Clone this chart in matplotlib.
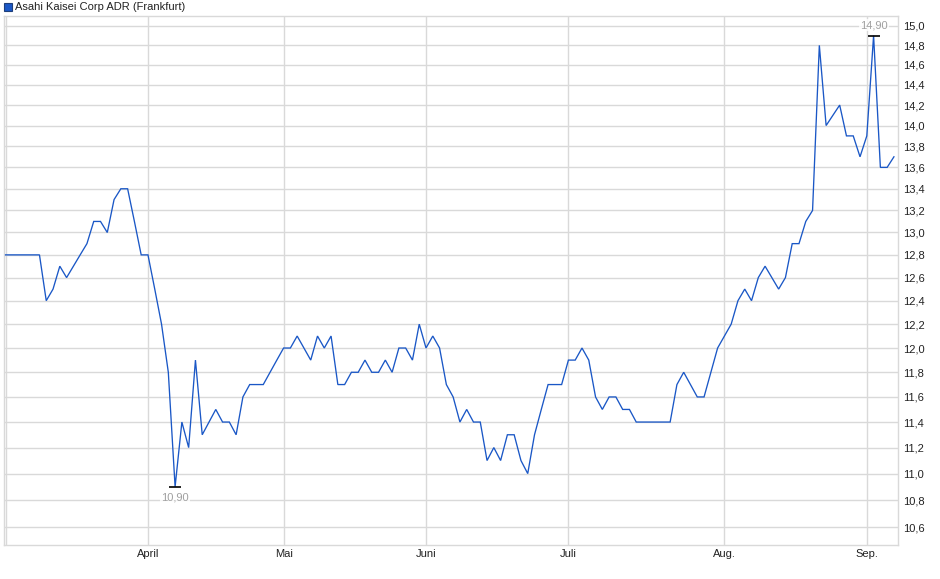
import numpy as np
import pandas as pd
import matplotlib
matplotlib.use("Agg")
import matplotlib.pyplot as plt
from matplotlib.ticker import FixedLocator, NullLocator, FuncFormatter

# ---- data ----
title = "Asahi Kaisei Corp ADR (Frankfurt)"
holidays = ["2025-04-18", "2025-04-21", "2025-05-01"]
dates = pd.bdate_range("2025-03-03", "2025-09-05")
dates = dates[~dates.isin(pd.to_datetime(holidays))]

prices = [
    12.8, 12.8, 12.8, 12.8, 12.8, 12.8, 12.4, 12.5, 12.7, 12.6,
    12.7, 12.8, 12.9, 13.1, 13.1, 13.0, 13.3, 13.4, 13.4, 13.1,
    12.8, 12.8, 12.5, 12.2, 11.8, 10.9, 11.4, 11.2, 11.9, 11.3,
    11.4, 11.5, 11.4, 11.4, 11.3, 11.6, 11.7, 11.7, 11.7, 11.8,
    11.9, 12.0, 12.0, 12.1, 12.0, 11.9, 12.1, 12.0, 12.1, 11.7,
    11.7, 11.8, 11.8, 11.9, 11.8, 11.8, 11.9, 11.8, 12.0, 12.0,
    11.9, 12.2, 12.0, 12.1, 12.0, 11.7, 11.6, 11.4, 11.5, 11.4,
    11.4, 11.1, 11.2, 11.1, 11.3, 11.3, 11.1, 11.0, 11.3, 11.5,
    11.7, 11.7, 11.7, 11.9, 11.9, 12.0, 11.9, 11.6, 11.5, 11.6,
    11.6, 11.5, 11.5, 11.4, 11.4, 11.4, 11.4, 11.4, 11.4, 11.7,
    11.8, 11.7, 11.6, 11.6, 11.8, 12.0, 12.1, 12.2, 12.4, 12.5,
    12.4, 12.6, 12.7, 12.6, 12.5, 12.6, 12.9, 12.9, 13.1, 13.2,
    14.8, 14.0, 14.1, 14.2, 13.9, 13.9, 13.7, 13.9, 14.9, 13.6,
    13.6, 13.7,
]
n = min(len(dates), len(prices))
dates = dates[:n]
prices = np.array(prices[:n])

month_names = ["April", "Mai", "Juni", "Juli", "Aug.", "Sep."]
month_nums = [4, 5, 6, 7, 8, 9]
y_ticks = [10.6, 10.8, 11.0, 11.2, 11.4, 11.6, 11.8, 12.0, 12.2, 12.4, 12.6,
           12.8, 13.0, 13.2, 13.4, 13.6, 13.8, 14.0, 14.2, 14.4, 14.6, 14.8, 15.0]

# ---- figure ----
plt.rcParams['font.family'] = ['Liberation Sans', 'DejaVu Sans']
W, H = 940, 579
fig = plt.figure(figsize=(W / 100, H / 100), dpi=100)
ax = fig.add_axes([4 / W, (H - 545) / H, (898 - 4) / W, (545 - 16) / H])

x = np.arange(n)
line_color = "#1a57c6"
grid_color = "#d9d9d9"
ax.plot(x, prices, color=line_color, lw=0.95, solid_joinstyle="miter", zorder=3)

ax.set_yscale("log")
ax.set_ylim(10.469, 15.104)
ax.set_xlim(-0.23, n - 1 + 0.6)

ax.yaxis.set_major_locator(FixedLocator(y_ticks))
ax.yaxis.set_minor_locator(NullLocator())
ax.yaxis.set_major_formatter(FuncFormatter(lambda v, p: f"{v:.1f}".replace(".", ",")))
ax.yaxis.tick_right()

month_pos = []
for m in month_nums:
    idx = np.where(dates.month == m)[0]
    month_pos.append(idx[0])
ax.xaxis.set_major_locator(FixedLocator(month_pos))
ax.xaxis.set_minor_locator(NullLocator())
ax.set_xticklabels(month_names)

ax.tick_params(axis="both", length=0, labelsize=8, colors="#222222")
ax.tick_params(axis="y", pad=4)
ax.tick_params(axis="x", pad=3)

ax.grid(True, which="major", color=grid_color, lw=1.0, zorder=0)
ax.axvline(0.06, color=grid_color, lw=1.0, zorder=0)
for s in ax.spines.values():
    s.set_color(grid_color)
    s.set_linewidth(1.0)

# min / max annotations
imax = int(np.argmax(prices))
imin = int(np.argmin(prices))
for i, off, va in [(imax, 7.5, "center"), (imin, -7.5, "center")]:
    ax.plot([i], [prices[i]], marker="_", markersize=9, markeredgewidth=1.2,
            color="black", zorder=4)
    ax.annotate(f"{prices[i]:.2f}".replace(".", ","), xy=(i, prices[i]),
                xytext=(0, off), textcoords="offset points", ha="center", va=va,
                fontsize=8, color="#a0a0a0", zorder=5,
                bbox=dict(boxstyle="square,pad=0.1", fc="white", ec="none", alpha=0.8))

# legend
fig.patches.append(plt.Rectangle((4 / W, (H - 11) / H), 8 / W, 8 / H,
                                 transform=fig.transFigure, facecolor=line_color,
                                 edgecolor="#1f3f7a", lw=0.8))
fig.text(15 / W, (H - 6.5) / H, title, fontsize=8, va="center", ha="left",
         color="#222222")

fig.savefig("out.png", dpi=100)
